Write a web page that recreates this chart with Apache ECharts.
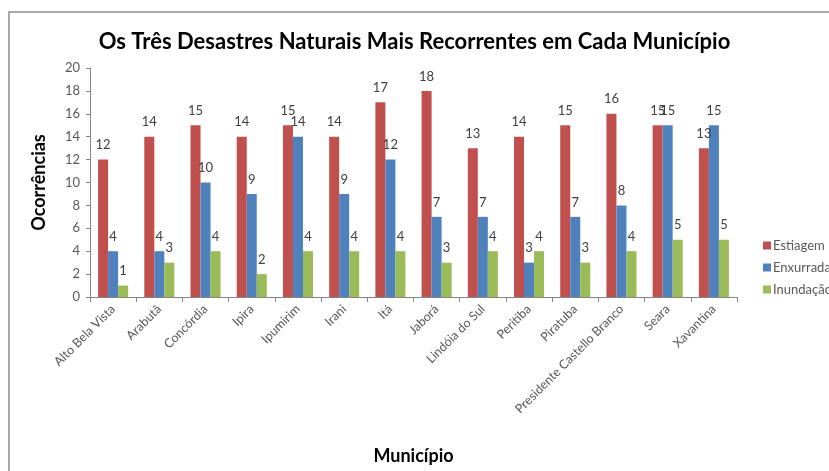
<!DOCTYPE html>
<html>
<head>
<meta charset="utf-8">
<script src="https://cdn.jsdelivr.net/npm/echarts@6/dist/echarts.min.js"></script>
<style>
  html, body { margin: 0; padding: 0; background: #fff; }
  #chart { width: 829px; height: 471px; }
</style>
</head>
<body>
<div id="chart"></div>
<script>
// municípios e ocorrências
const municipios = ['Alto Bela Vista', 'Arabutã', 'Concórdia', 'Ipira', 'Ipumirim', 'Irani', 'Itá',
  'Jaborá', 'Lindóia do Sul', 'Peritiba', 'Piratuba', 'Presidente Castello Branco', 'Seara', 'Xavantina']
const estiagem = [12, 14, 15, 14, 15, 14, 17, 18, 13, 14, 15, 16, 15, 13]
const enxurrada = [4, 4, 10, 9, 14, 9, 12, 7, 7, 3, 7, 8, 15, 15]
const inundacao = [1, 3, 4, 2, 4, 4, 4, 3, 4, 4, 3, 4, 5, 5]
const yTicks = [0, 20, 2] // min, max, intervalo

const font = 'Lato, "Open Sans", sans-serif'
const axisGrey = '#868686'
const textGrey = '#595959'

const mkSeries = (name, data, color) => ({
  name: name,
  type: 'bar',
  data: data,
  barGap: 0,
  barCategoryGap: '35%',
  itemStyle: { color: color },
  label: {
    show: true,
    position: 'top',
    distance: 8,
    fontFamily: font,
    fontSize: 13,
    color: '#404040'
  }
})

const chart = echarts.init(document.getElementById('chart'))
chart.setOption({
  animation: false,
  textStyle: { fontFamily: font },
  graphic: [{
    type: 'rect',
    shape: { x: 9, y: 12, width: 900, height: 520 },
    style: { fill: 'none', stroke: '#8c8c8c', lineWidth: 1.5 },
    silent: true
  }],
  title: {
    text: 'Os Três Desastres Naturais Mais Recorrentes em Cada Município',
    left: 'center',
    top: 26,
    textStyle: { fontFamily: font, fontSize: 22, fontWeight: 'bold', color: '#000' }
  },
  legend: {
    orient: 'vertical',
    left: 758,
    top: 234,
    itemWidth: 8,
    itemHeight: 8,
    itemGap: 9,
    icon: 'rect',
    textStyle: { fontFamily: font, fontSize: 13, color: textGrey, padding: [0, 0, 0, -3] },
    data: ['Estiagem', 'Enxurrada', 'Inundação']
  },
  grid: { left: 90, right: 92, top: 68, bottom: 174, containLabel: false },
  xAxis: {
    type: 'category',
    data: municipios,
    name: 'Município',
    nameLocation: 'middle',
    nameGap: 150,
    nameTextStyle: { fontFamily: font, fontSize: 18, fontWeight: 'bold', color: '#000' },
    axisLine: { lineStyle: { color: axisGrey } },
    axisTick: { show: true, length: 5, lineStyle: { color: axisGrey } },
    axisLabel: {
      interval: 0,
      rotate: 45,
      margin: 10,
      fontFamily: font,
      fontSize: 12.5,
      color: textGrey
    }
  },
  yAxis: {
    type: 'value',
    min: yTicks[0],
    max: yTicks[1],
    interval: yTicks[2],
    name: 'Ocorrências',
    nameLocation: 'middle',
    nameGap: 42,
    nameTextStyle: { fontFamily: font, fontSize: 18, fontWeight: 'bold', color: '#000' },
    axisLine: { show: true, lineStyle: { color: axisGrey } },
    axisTick: { show: true, length: 4, lineStyle: { color: axisGrey } },
    splitLine: { show: false },
    axisLabel: { fontFamily: font, fontSize: 13, color: textGrey, margin: 10 }
  },
  series: [
    mkSeries('Estiagem', estiagem, '#C0504D'),
    mkSeries('Enxurrada', enxurrada, '#4F81BD'),
    mkSeries('Inundação', inundacao, '#9BBB59')
  ]
})
</script>
</body>
</html>
